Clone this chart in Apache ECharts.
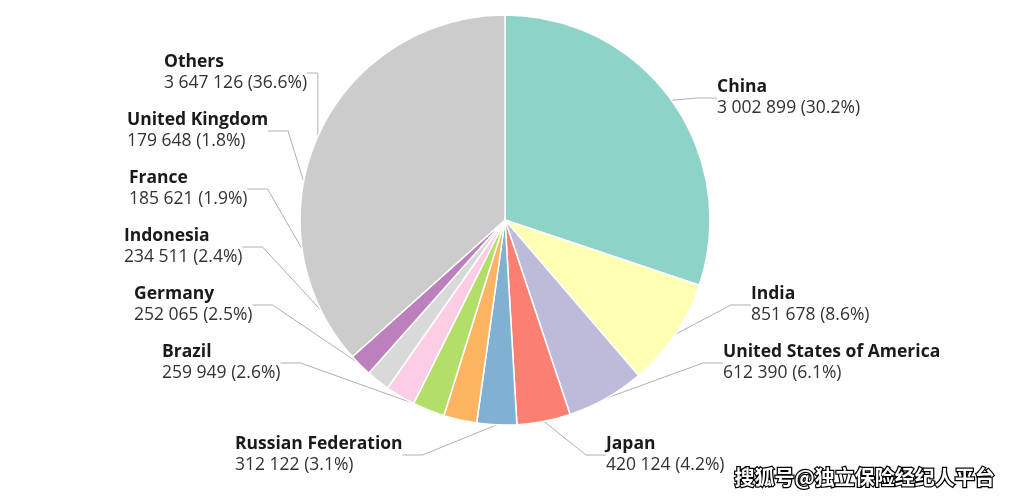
<!DOCTYPE html>
<html><head><meta charset="utf-8">
<script src="https://cdn.jsdelivr.net/npm/echarts@6/dist/echarts.min.js"></script>
<style>html,body{margin:0;padding:0;background:#fff}#c{width:1018px;height:499px}</style>
</head><body><div id="c"></div>
<script>
const countries = ['China','India','United States of America','Japan','Russian Federation','Brazil','Germany','Indonesia','France','United Kingdom','Others'];
const values = [3002899, 851678, 612390, 420124, 312122, 259949, 252065, 234511, 185621, 179648, 3647126];
const percents = ['30.2','8.6','6.1','4.2','3.1','2.6','2.5','2.4','1.9','1.8','36.6'];
const colors = ['#8dd3c7','#ffffb3','#bebada','#fb8072','#80b1d3','#fdb462','#b3de69','#fccde5','#d9d9d9','#bc80bd','#cccccc'];
// label placement (layout only)
const labelSpots = [[717,77],[751,284],[723,342],[606,434],[235,434],[162,342],[134,284],[124,226],[129,168],[127,110],[164,52]];

function fmt(v){return String(v).replace(/\B(?=(\d{3})+(?!\d))/g,' ');}

const chart = echarts.init(document.getElementById('c'), null, {renderer:'canvas'});
chart.setOption({
  animation:false,
  backgroundColor:'#fff',
  series:[{
    type:'pie',
    center:[505,220],
    radius:[0,205],
    startAngle:90,
    clockwise:true,
    avoidLabelOverlap:false,
    data: countries.map((n,i)=>({name:n,value:values[i],itemStyle:{color:colors[i]}})),
    itemStyle:{borderColor:'#fff',borderWidth:1.5},
    label:{
      show:true,
      formatter:p=>'{n|'+p.name+'}\n{v|'+fmt(p.value)+' ('+percents[p.dataIndex]+'%)}',
      rich:{
        n:{fontFamily:'Open Sans',fontWeight:'bold',fontSize:17.5,color:'#1a1a1a',lineHeight:21},
        v:{fontFamily:'Open Sans',fontSize:17.5,color:'#333',lineHeight:21}
      }
    },
    labelLine:{show:true,length:20,length2:20,lineStyle:{color:'#b0b0b0',width:1}},
    labelLayout:function(p){
      const s = labelSpots[p.dataIndex];
      return {x:s[0],y:s[1],align:'left',verticalAlign:'top'};
    },
    emphasis:{disabled:true}
  }],
  graphic:[{
    type:'text',right:22,bottom:10,
    style:{text:'搜狐号@独立保险经纪人平台',font:'bold 20px "Noto Sans CJK SC"',fill:'#fff',stroke:'#000',lineWidth:2.5}
  }]
});
</script></body></html>
